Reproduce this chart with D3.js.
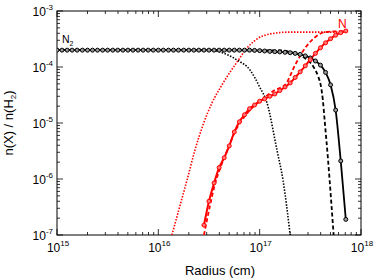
<!DOCTYPE html>
<html>
<head>
<meta charset="utf-8">
<script src="https://cdn.jsdelivr.net/npm/d3@7"></script>
<style>
  body { margin: 0; background: #fff; }
  text { font-family: "Liberation Sans", Arial, sans-serif; }
</style>
</head>
<body>
<div id="chart"></div>
<script>
// radial grid of the model with markers (0.05 dex steps)
const radiusGrid = [
  1.00e15, 1.12e15, 1.26e15, 1.41e15, 1.58e15, 1.78e15, 2.00e15, 2.24e15, 2.51e15, 2.82e15,
  3.16e15, 3.55e15, 3.98e15, 4.47e15, 5.01e15, 5.62e15, 6.31e15, 7.08e15, 7.94e15, 8.91e15,
  1.00e16, 1.12e16, 1.26e16, 1.41e16, 1.58e16, 1.78e16, 2.00e16, 2.24e16, 2.51e16, 2.82e16,
  3.16e16, 3.55e16, 3.98e16, 4.47e16, 5.01e16, 5.62e16, 6.31e16, 7.08e16, 7.94e16, 8.91e16,
  1.00e17, 1.12e17, 1.26e17, 1.41e17, 1.58e17, 1.78e17, 2.00e17, 2.24e17, 2.51e17, 2.82e17,
  3.16e17, 3.55e17, 3.98e17, 4.47e17, 5.01e17, 5.62e17, 6.31e17, 7.08e17
];

// N2 solid (with circles), one value per grid radius
const n2Solid = [
  2.0e-4, 2.0e-4, 2.0e-4, 2.0e-4, 2.0e-4, 2.0e-4, 2.0e-4, 2.0e-4, 2.0e-4, 2.0e-4,
  2.0e-4, 2.0e-4, 2.0e-4, 2.0e-4, 2.0e-4, 2.0e-4, 2.0e-4, 2.0e-4, 2.0e-4, 2.0e-4,
  2.0e-4, 2.0e-4, 2.0e-4, 2.0e-4, 2.0e-4, 2.0e-4, 2.0e-4, 2.0e-4, 2.0e-4, 2.0e-4,
  2.0e-4, 2.0e-4, 2.0e-4, 2.0e-4, 2.0e-4, 2.0e-4, 2.0e-4, 2.0e-4, 2.0e-4, 1.98e-4,
  1.96e-4, 1.93e-4, 1.90e-4, 1.88e-4, 1.86e-4, 1.83e-4, 1.80e-4, 1.75e-4, 1.68e-4, 1.58e-4,
  1.45e-4, 1.28e-4, 1.08e-4, 8.0e-5, 4.8e-5, 1.7e-5, 2.1e-6, 1.9e-7
];

// N solid (with circles), starts at grid index 29 (2.82e16 cm)
const nSolidStart = 29;
const nSolid = [
  1.5e-7, 4.0e-7, 8.5e-7, 1.6e-6, 2.4e-6, 3.9e-6, 6.9e-6, 1.05e-5, 1.4e-5, 1.8e-5,
  2.1e-5, 2.45e-5, 2.7e-5, 3.0e-5, 3.3e-5, 3.8e-5, 4.4e-5, 5.2e-5, 6.5e-5, 8.2e-5,
  1.05e-4, 1.35e-4, 1.75e-4, 2.2e-4, 2.7e-4, 3.2e-4, 3.7e-4, 4.1e-4, 4.4e-4
];

// other models: [radius, abundance]
const n2Dashed = [
  [1e15, 2.0e-4], [1.6e17, 1.98e-4], [2.0e17, 1.85e-4], [2.7e17, 1.5e-4], [3.4e17, 1.0e-4],
  [3.8e17, 6.6e-5], [4.0e17, 4.8e-5], [4.2e17, 2.6e-5], [4.38e17, 1.1e-5], [4.73e17, 2.2e-6],
  [5.07e17, 4.2e-7], [5.37e17, 1.0e-7]
];
const n2Dotted = [
  [1e15, 2.0e-4], [2.6e16, 2.0e-4], [3.2e16, 1.98e-4], [3.8e16, 1.93e-4], [4.1e16, 1.85e-4],
  [6.0e16, 1.33e-4], [8.0e16, 8.9e-5], [1.0e17, 4.4e-5], [1.18e17, 2.3e-5], [1.48e17, 3.3e-6],
  [1.7e17, 9.5e-7], [2.0e17, 1.0e-7]
];
const nDashed = [
  [2.82e16, 1.0e-7], [3.24e16, 3.4e-7], [3.6e16, 7.8e-7], [4.1e16, 1.6e-6], [4.9e16, 3.6e-6],
  [5.7e16, 7.0e-6], [6.7e16, 1.13e-5], [8.4e16, 1.85e-5], [1.08e17, 2.7e-5], [1.42e17, 3.9e-5],
  [1.78e17, 4.8e-5], [2.24e17, 1.09e-4], [2.81e17, 2.18e-4], [3.52e17, 3.4e-4], [4.42e17, 4.2e-4],
  [7.3e17, 4.4e-4]
];
const nDotted = [
  [1.36e16, 1.0e-7], [1.64e16, 3.4e-7], [1.92e16, 9.6e-7], [2.3e16, 3.3e-6], [2.76e16, 9.2e-6],
  [3.39e16, 2.3e-5], [4.25e16, 4.8e-5], [5.98e16, 1.23e-4], [7.5e16, 2.18e-4], [9.4e16, 3.16e-4],
  [1.27e17, 3.9e-4], [2.0e17, 4.2e-4], [7.3e17, 4.2e-4]
];

const xTickExps = [15, 16, 17, 18];
const yTickExps = [-7, -6, -5, -4, -3];

const width = 374, height = 279;
const margin = { top: 11, right: 13, bottom: 44, left: 57 };
const w = width - margin.left - margin.right;
const h = height - margin.top - margin.bottom;

const svg = d3.select("#chart").append("svg")
    .attr("width", width)
    .attr("height", height);

const g = svg.append("g")
    .attr("transform", `translate(${margin.left},${margin.top})`);

const x = d3.scaleLog().domain([1e15, 1e18]).range([0, w]);
const y = d3.scaleLog().domain([1e-7, 1e-3]).range([h, 0]);

g.append("defs").append("clipPath").attr("id", "clip")
    .append("rect").attr("width", w).attr("height", h);

// minor + major log ticks on all four sides, pointing inward
function logTicks(lo, hi) {
    const out = [];
    for (let e = lo; e < hi; e++) {
        for (let m = 1; m <= 9; m++) out.push({ v: m * Math.pow(10, e), major: m === 1 });
    }
    out.push({ v: Math.pow(10, hi), major: true });
    return out;
}
const ticks = g.append("g").attr("stroke", "#000").attr("stroke-width", 0.8);
logTicks(15, 18).forEach(t => {
    const px = x(t.v), len = t.major ? 6 : 3;
    ticks.append("line").attr("x1", px).attr("x2", px).attr("y1", h).attr("y2", h - len);
    ticks.append("line").attr("x1", px).attr("x2", px).attr("y1", 0).attr("y2", len);
});
logTicks(-7, -3).forEach(t => {
    const py = y(t.v), len = t.major ? 6 : 3;
    ticks.append("line").attr("x1", 0).attr("x2", len).attr("y1", py).attr("y2", py);
    ticks.append("line").attr("x1", w).attr("x2", w - len).attr("y1", py).attr("y2", py);
});

g.append("rect")
    .attr("width", w).attr("height", h)
    .attr("fill", "none").attr("stroke", "#000").attr("stroke-width", 1);

// tick labels as 10^n
xTickExps.forEach(e => {
    const t = g.append("text")
        .attr("x", x(Math.pow(10, e)) + 1)
        .attr("y", h + 17)
        .attr("text-anchor", "middle")
        .attr("font-size", 12);
    t.append("tspan").text("10");
    t.append("tspan").attr("dy", -6).attr("font-size", 8).text(e);
});
yTickExps.forEach(e => {
    const t = g.append("text")
        .attr("x", -4)
        .attr("y", y(Math.pow(10, e)) + 5)
        .attr("text-anchor", "end")
        .attr("font-size", 12);
    t.append("tspan").text("10");
    t.append("tspan").attr("dy", -6).attr("font-size", 8).text(e);
});

// axis titles
g.append("text")
    .attr("x", 163).attr("y", h + 40)
    .attr("text-anchor", "middle").attr("font-size", 13)
    .text("Radius (cm)");

const yl = svg.append("text")
    .attr("transform", `translate(13,${margin.top + h / 2}) rotate(-90)`)
    .attr("text-anchor", "middle").attr("font-size", 13);
yl.append("tspan").text("n(X) / n(H");
yl.append("tspan").attr("font-size", 8).attr("dy", 3).text("2");
yl.append("tspan").attr("dy", -3).text(")");

// lines
const plot = g.append("g").attr("clip-path", "url(#clip)");
const line = d3.line()
    .x(d => x(d[0]))
    .y(d => y(Math.max(d[1], 1e-8)))
    .curve(d3.curveMonotoneX);

function drawLine(data, color, dash, sw) {
    plot.append("path")
        .datum(data)
        .attr("fill", "none")
        .attr("stroke", color)
        .attr("stroke-width", sw)
        .attr("stroke-dasharray", dash)
        .attr("d", line);
}

const n2SolidPts = radiusGrid.map((r, i) => [r, n2Solid[i]]);
const nSolidPts = radiusGrid.slice(nSolidStart).map((r, i) => [r, nSolid[i]]);

drawLine(n2Dotted, "#000", "1.5,1.5", 1.6);
drawLine(nDotted, "#f00", "1.5,1.5", 1.6);
drawLine(n2Dashed, "#000", "4,2.5", 1.8);
drawLine(nDashed, "#f00", "4,2.5", 1.8);
drawLine(n2SolidPts, "#000", null, 1.8);
drawLine(nSolidPts, "#f00", null, 2);

function drawMarkers(data, color, fill) {
    plot.selectAll(null)
        .data(data)
        .enter().append("circle")
        .attr("cx", d => x(d[0]))
        .attr("cy", d => y(d[1]))
        .attr("r", 2)
        .attr("fill", fill)
        .attr("stroke", color)
        .attr("stroke-width", 1);
}
drawMarkers(n2SolidPts, "#000", "#999");
drawMarkers(nSolidPts, "#f00", "#f77");

// species labels
const n2Label = g.append("text")
    .attr("x", 5).attr("y", 32).attr("font-size", 10.5);
n2Label.append("tspan").text("N");
n2Label.append("tspan").attr("font-size", 7).attr("dy", 3).text("2");

g.append("text")
    .attr("x", 281).attr("y", 17)
    .attr("font-size", 12).attr("fill", "#f00")
    .text("N");
</script>
</body>
</html>
